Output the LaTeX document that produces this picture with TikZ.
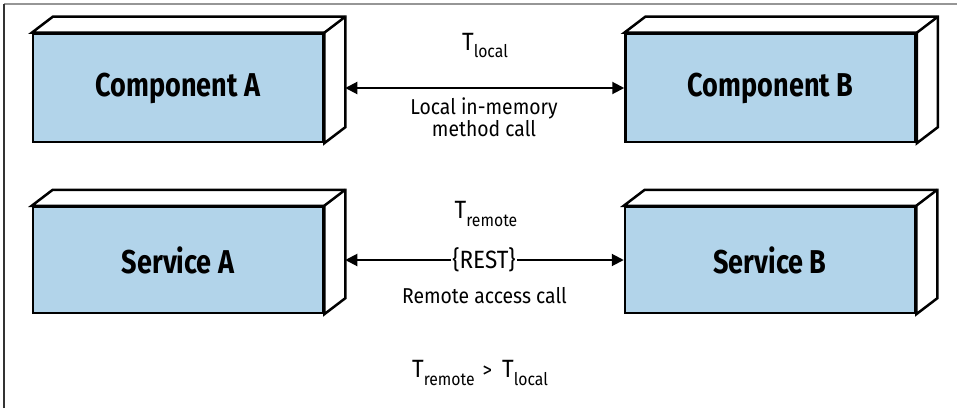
\documentclass[tikz,border=0pt]{standalone}
\usepackage{fontspec}
\setmainfont{Fira Sans}[FakeStretch=0.82]
\newfontfamily\lblfont{Fira Sans}[FakeStretch=0.9]
\usetikzlibrary{arrows.meta}

\definecolor{boxblue}{RGB}{178,212,234}
\definecolor{framegray}{RGB}{150,150,150}

\tikzset{
  block/.style={draw, line width=2.5pt, fill=boxblue, minimum width=290pt,
    minimum height=108pt, inner sep=0pt, font=\fontsize{33}{35}\selectfont\bfseries},
  side/.style={draw, line width=2.5pt, fill=white, line join=miter},
  tip/.style={line width=2pt, -{Triangle[length=12pt,width=12pt]}},
  lbl/.style={font=\lblfont\fontsize{21.5}{18}\selectfont, align=center, inner sep=0pt},
}
\newcommand{\tsub}[1]{{\lblfont\fontsize{25}{25}\selectfont T}\raisebox{-8pt}{\lblfont\fontsize{17.5}{17.5}\selectfont #1}}

\begin{document}
\begin{tikzpicture}[x=1pt,y=1pt]
  \useasboundingbox (0,0) rectangle (957,408);

  % ===== frame =====
  \draw[framegray, line width=1.2pt] (4,404) -- (957,404);
  \draw[black!80, line width=1.2pt] (4,0) -- (4,404);

  % ===== boxes =====
  \node[block] (compA) at (178,320) {Component A};
  \node[block] (compB) at (770.5,320) {Component B};
  \node[block, minimum height=106pt] (servA) at (178,148) {Service A};
  \node[block, minimum height=106pt] (servB) at (770,148) {Service B};

  % depth of each box
  \foreach \n in {compA,compB,servA,servB} {
    \draw[side] (\n.north west) -- ([shift={(21,16)}]\n.north west)
      -- ([shift={(21,16)}]\n.north east) -- ([shift={(21,16)}]\n.south east)
      -- (\n.south east) -- (\n.north east) -- cycle;
    \draw[side] (\n.north east) -- ([shift={(21,16)}]\n.north east);
    \coordinate (\n-side) at ([xshift=21pt]\n.east);
  }

  % ===== local call =====
  \draw[tip, {Triangle[length=12pt,width=12pt]}-{Triangle[length=12pt,width=12pt]}]
    (compA-side) -- (compB.west);
  \node[anchor=base] (tlocal) at (485,358) {\tsub{local}};
  \node[lbl, anchor=base] (localcall) at (484,272) {Local in-memory\\method call};

  % ===== remote call =====
  \node[lbl, font=\lblfont\fontsize{25}{25}\selectfont, fill=white, inner xsep=1pt] (rest) at (484,148) {\{REST\}};
  \draw[tip] (rest) -- (servA-side);
  \draw[tip] (rest) -- (servB.west);
  \node[anchor=base] (tremote) at (486,190) {\tsub{remote}};
  \node[lbl, anchor=base] (remotecall) at (484.5,105) {Remote access call};

  % ===== comparison =====
  \node[anchor=base] (compare) at (480,31) {\tsub{remote}\hspace{8pt}{\lblfont\fontsize{21}{21}\selectfont >}\hspace{10pt}\tsub{local}};
\end{tikzpicture}
\end{document}
